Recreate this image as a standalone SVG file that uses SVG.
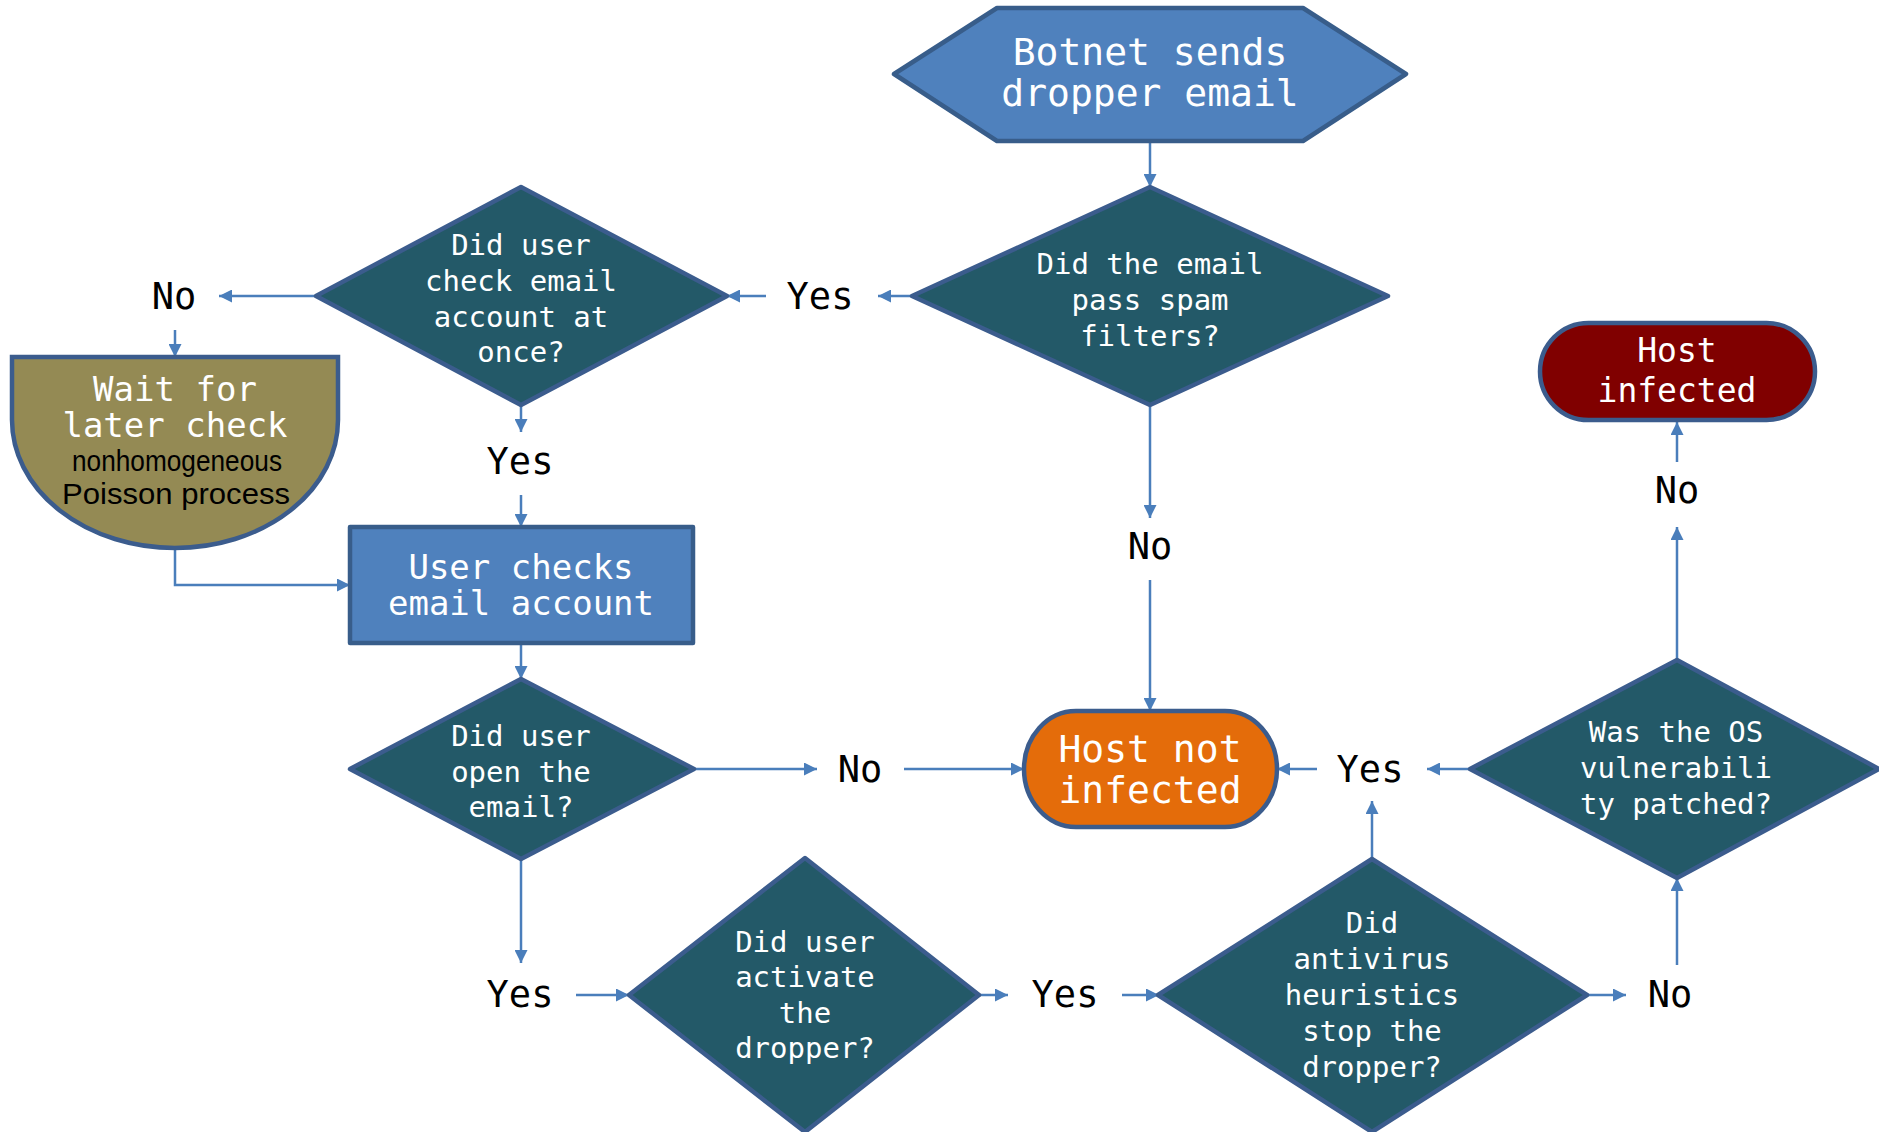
<svg xmlns="http://www.w3.org/2000/svg" width="1879" height="1132" viewBox="0 0 1879 1132">
  <defs>
    <marker id="arrow" markerUnits="userSpaceOnUse" viewBox="0 0 12 12" refX="12" refY="6" markerWidth="14" markerHeight="13" orient="auto">
      <path d="M0,0 L12,6 L0,12 z" fill="#4A7EBB"/>
    </marker>
  </defs>
  <style>
    .edge { fill: none; stroke: #4A7EBB; stroke-width: 2.5; marker-end: url(#arrow); }
    .decision { fill: #235968; stroke: #3B5C8D; stroke-width: 4.5; stroke-linejoin: round; }
    .process { fill: #4F81BD; stroke: #385D8A; stroke-width: 4.5; stroke-linejoin: round; }
    .wait { fill: #948A54; stroke: #3B5C8D; stroke-width: 4.5; }
    .safe { fill: #E46C0A; stroke: #3B5C8D; stroke-width: 4.5; }
    .bad { fill: #800000; stroke: #3B5C8D; stroke-width: 4.5; }
    text { font-family: "DejaVu Sans Mono", "Liberation Mono", monospace; text-anchor: middle; }
    .q { fill: #FFFFFF; font-size: 29px; }
    .big { fill: #FFFFFF; font-size: 38px; }
    .mid { fill: #FFFFFF; font-size: 34px; }
    .end { fill: #FFFFFF; font-size: 33px; }
    .note { fill: #000000; font-family: "Liberation Sans", Arial, sans-serif; font-size: 30px; }
    .lbl { fill: #000000; font-size: 37px; }
  </style>

  <!-- connectors -->
  <g id="connectors">
    <line class="edge" x1="1150" y1="141" x2="1150" y2="187"/>
    <line class="edge" x1="912" y1="296" x2="878" y2="296"/>
    <line class="edge" x1="766" y1="296" x2="727" y2="296"/>
    <line class="edge" x1="316" y1="296" x2="219" y2="296"/>
    <line class="edge" x1="175" y1="330" x2="175" y2="357"/>
    <polyline class="edge" points="175,548 175,585 350,585"/>
    <line class="edge" x1="521" y1="405" x2="521" y2="432"/>
    <line class="edge" x1="521" y1="495" x2="521" y2="527"/>
    <line class="edge" x1="521" y1="643" x2="521" y2="679"/>
    <line class="edge" x1="694" y1="769" x2="817" y2="769"/>
    <line class="edge" x1="904" y1="769" x2="1024" y2="769"/>
    <line class="edge" x1="1150" y1="405" x2="1150" y2="518"/>
    <line class="edge" x1="1150" y1="580" x2="1150" y2="711"/>
    <line class="edge" x1="521" y1="859" x2="521" y2="963"/>
    <line class="edge" x1="576" y1="995" x2="629" y2="995"/>
    <line class="edge" x1="979" y1="995" x2="1008" y2="995"/>
    <line class="edge" x1="1122" y1="995" x2="1159" y2="995"/>
    <line class="edge" x1="1587" y1="995" x2="1626" y2="995"/>
    <line class="edge" x1="1677" y1="965" x2="1677" y2="878"/>
    <line class="edge" x1="1372" y1="859" x2="1372" y2="801"/>
    <line class="edge" x1="1470" y1="769" x2="1427" y2="769"/>
    <line class="edge" x1="1317" y1="769" x2="1277" y2="769"/>
    <line class="edge" x1="1677" y1="660" x2="1677" y2="527"/>
    <line class="edge" x1="1677" y1="462" x2="1677" y2="422"/>
  </g>

  <!-- branch labels -->
  <g id="labels">
    <text class="lbl" x="820" y="309">Yes</text>
    <text class="lbl" x="174" y="309">No</text>
    <text class="lbl" x="520" y="474">Yes</text>
    <text class="lbl" x="1150" y="559">No</text>
    <text class="lbl" x="860" y="782">No</text>
    <text class="lbl" x="1370" y="782">Yes</text>
    <text class="lbl" x="1677" y="503">No</text>
    <text class="lbl" x="520" y="1007">Yes</text>
    <text class="lbl" x="1065" y="1007">Yes</text>
    <text class="lbl" x="1670" y="1007">No</text>
  </g>

  <g id="botnet">
    <polygon class="process" points="894,74 997,8 1303,8 1406,74 1303,141 997,141"/>
    <text class="big" x="1150" y="65">Botnet sends</text>
    <text class="big" x="1150" y="106">dropper email</text>
  </g>

  <g id="spam-filter">
    <polygon class="decision" points="1150,187 1388,296 1150,405 912,296"/>
    <text class="q" x="1150" y="274">Did the email</text>
    <text class="q" x="1150" y="310">pass spam</text>
    <text class="q" x="1150" y="346">filters?</text>
  </g>

  <g id="check-at-once">
    <polygon class="decision" points="521,187 727,296 521,405 316,296"/>
    <text class="q" x="521" y="255">Did user</text>
    <text class="q" x="521" y="291">check email</text>
    <text class="q" x="521" y="327">account at</text>
    <text class="q" x="521" y="362">once?</text>
  </g>

  <g id="wait-later">
    <path class="wait" d="M12,357 H338 V420 A163,128 0 0 1 12,420 Z"/>
    <text class="mid" x="175" y="401">Wait for</text>
    <text class="mid" x="175" y="437">later check</text>
    <text class="note" x="177" y="471" textLength="210" lengthAdjust="spacingAndGlyphs">nonhomogeneous</text>
    <text class="note" x="176" y="504" textLength="228" lengthAdjust="spacingAndGlyphs">Poisson process</text>
  </g>

  <g id="user-checks">
    <rect class="process" x="350" y="527" width="343" height="116"/>
    <text class="mid" x="521" y="579">User checks</text>
    <text class="mid" x="521" y="615">email account</text>
  </g>

  <g id="open-email">
    <polygon class="decision" points="521,679 694,769 521,859 350,769"/>
    <text class="q" x="521" y="746">Did user</text>
    <text class="q" x="521" y="782">open the</text>
    <text class="q" x="521" y="817">email?</text>
  </g>

  <g id="host-not-infected">
    <rect class="safe" x="1024" y="711" width="253" height="116" rx="52" ry="58"/>
    <text class="big" x="1150" y="762">Host not</text>
    <text class="big" x="1150" y="803">infected</text>
  </g>

  <g id="host-infected">
    <rect class="bad" x="1540" y="323" width="275" height="97" rx="48.5"/>
    <text class="end" x="1677" y="362">Host</text>
    <text class="end" x="1677" y="402">infected</text>
  </g>

  <g id="os-patched">
    <polygon class="decision" points="1677,660 1879,769 1677,878 1470,769"/>
    <text class="q" x="1676" y="742">Was the OS</text>
    <text class="q" x="1676" y="778">vulnerabili</text>
    <text class="q" x="1676" y="814">ty patched?</text>
  </g>

  <g id="activate-dropper">
    <polygon class="decision" points="805,858 979,995 805,1132 629,995"/>
    <text class="q" x="805" y="952">Did user</text>
    <text class="q" x="805" y="987">activate</text>
    <text class="q" x="805" y="1023">the</text>
    <text class="q" x="805" y="1058">dropper?</text>
  </g>

  <g id="antivirus">
    <polygon class="decision" points="1372,859 1587,995 1372,1132 1158,995"/>
    <text class="q" x="1372" y="933">Did</text>
    <text class="q" x="1372" y="969">antivirus</text>
    <text class="q" x="1372" y="1005">heuristics</text>
    <text class="q" x="1372" y="1041">stop the</text>
    <text class="q" x="1372" y="1077">dropper?</text>
  </g>
</svg>
